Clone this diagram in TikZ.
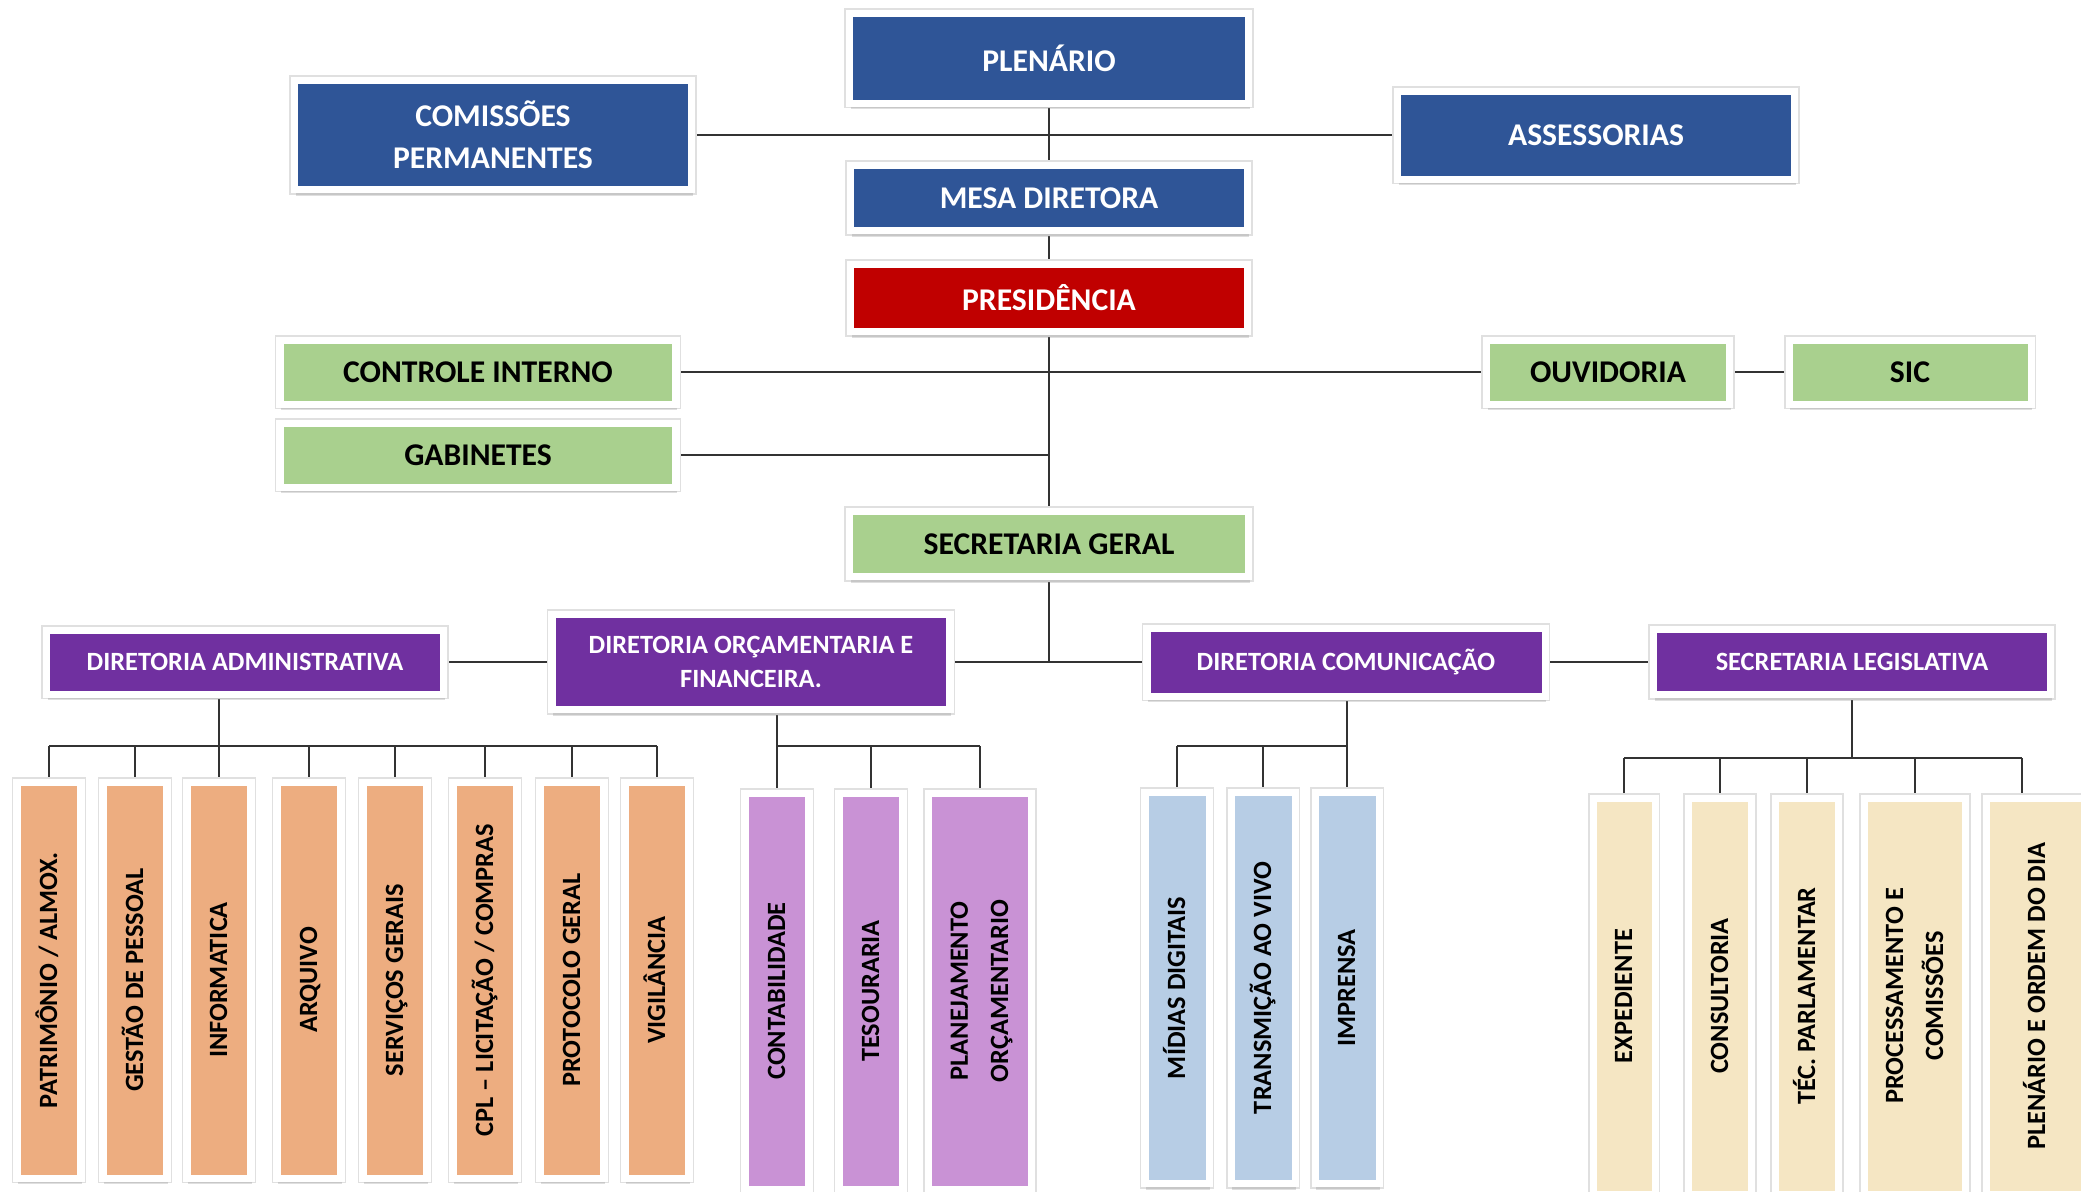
\documentclass[tikz,border=0pt]{standalone}
\usepackage{fontspec}
\setmainfont{Carlito}
\usetikzlibrary{shadows,backgrounds}

\definecolor{azul}{HTML}{2F5597}
\definecolor{vermelho}{HTML}{C00000}
\definecolor{verde}{HTML}{A9D08E}
\definecolor{roxo}{HTML}{7030A0}
\definecolor{laranja}{HTML}{EDAD80}
\definecolor{lilas}{HTML}{C992D5}
\definecolor{celeste}{HTML}{B7CDE5}
\definecolor{creme}{HTML}{F5E6C3}

% texto girado para as caixas verticais
\newcommand{\girado}[1]{\rotatebox{90}{\begin{tabular}{@{}c@{}}#1\end{tabular}}}

\tikzset{
  caixa/.style={draw=white, line width=2pt, inner sep=0pt, align=center,
    preaction={draw=black!12, line width=3pt},
    drop shadow={shadow xshift=0.3pt, shadow yshift=-1.8pt, opacity=0.25}},
  chefia/.style={caixa, fill=azul, text=white, minimum width=3.97cm,
    font=\fontsize{9}{12}\selectfont\bfseries},
  apoio/.style={caixa, fill=verde, text=black, minimum width=3.96cm, minimum height=0.64cm,
    font=\fontsize{9}{12}\selectfont\bfseries},
  diretoria/.style={caixa, fill=roxo, text=white, minimum width=3.97cm,
    font=\fontsize{7.5}{9.7}\selectfont\bfseries},
  setor/.style={caixa, text=black, minimum width=0.64cm, minimum height=3.96cm,
    font=\fontsize{7.5}{11.4}\selectfont\bfseries},
  ligacao/.style={draw=black!80, line width=0.6pt},
}

\begin{document}
\begin{tikzpicture}[y=-1cm]
\useasboundingbox (0,0) rectangle (20.81,11.91);

% topo
\node[chefia, minimum width=3.99cm, minimum height=0.90cm] (plen) at (10.49,0.58) {PLENÁRIO};
\node[chefia, minimum height=1.09cm] (comis) at (4.93,1.35) {COMISSÕES\\PERMANENTES};
\node[chefia, minimum height=0.88cm] (asses) at (15.96,1.35) {ASSESSORIAS};
\node[chefia, minimum height=0.65cm] (mesa) at (10.49,1.98) {MESA DIRETORA};
\node[chefia, fill=vermelho, minimum height=0.67cm] (pres) at (10.49,2.98) {PRESIDÊNCIA};

\node[apoio] (ctrl) at (4.78,3.72) {CONTROLE INTERNO};
\node[apoio] (gab) at (4.78,4.55) {GABINETES};
\node[apoio, minimum width=2.43cm] (ouv) at (16.08,3.72) {OUVIDORIA};
\node[apoio, minimum width=2.42cm] (sic) at (19.10,3.72) {SIC};
\node[apoio, minimum width=3.99cm, minimum height=0.65cm] (secg) at (10.49,5.44) {SECRETARIA GERAL};

% diretorias
\node[diretoria, minimum height=0.64cm] (dadm) at (2.45,6.62) {DIRETORIA ADMINISTRATIVA};
\node[diretoria, minimum width=3.98cm, minimum height=0.95cm] (dorc) at (7.51,6.62) {DIRETORIA ORÇAMENTARIA E\\FINANCEIRA.};
\node[diretoria, minimum width=3.98cm, minimum height=0.68cm] (dcom) at (13.46,6.62) {DIRETORIA COMUNICAÇÃO};
\node[diretoria, minimum height=0.65cm] (sleg) at (18.52,6.62) {SECRETARIA LEGISLATIVA};

% setores
\node[setor, fill=laranja] (a1) at (0.49,9.80) {\girado{PATRIMÔNIO / ALMOX.}};
\node[setor, fill=laranja] (a2) at (1.35,9.80) {\girado{GESTÃO DE PESSOAL}};
\node[setor, fill=laranja] (a3) at (2.19,9.80) {\girado{INFORMATICA}};
\node[setor, fill=laranja] (a4) at (3.09,9.80) {\girado{ARQUIVO}};
\node[setor, fill=laranja] (a5) at (3.95,9.80) {\girado{SERVIÇOS GERAIS}};
\node[setor, fill=laranja] (a6) at (4.85,9.80) {\girado{CPL – LICITAÇÃO / COMPRAS}};
\node[setor, fill=laranja] (a7) at (5.72,9.80) {\girado{PROTOCOLO GERAL}};
\node[setor, fill=laranja] (a8) at (6.57,9.80) {\girado{VIGILÂNCIA}};

\node[setor, fill=lilas] (b1) at (7.77,9.91) {\girado{CONTABILIDADE}};
\node[setor, fill=lilas] (b2) at (8.71,9.91) {\girado{TESOURARIA}};
\node[setor, fill=lilas, minimum width=1.03cm] (b3) at (9.80,9.91) {\girado{PLANEJAMENTO\\ORÇAMENTARIO}};

\node[setor, fill=celeste, minimum height=3.91cm] (c1) at (11.77,9.88) {\girado{MÍDIAS DIGITAIS}};
\node[setor, fill=celeste, minimum height=3.91cm] (c2) at (12.63,9.88) {\girado{TRANSMIÇÃO AO VIVO}};
\node[setor, fill=celeste, minimum height=3.91cm] (c3) at (13.47,9.88) {\girado{IMPRENSA}};

\node[setor, fill=creme, minimum width=0.62cm] (d1) at (16.24,9.96) {\girado{EXPEDIENTE}};
\node[setor, fill=creme, minimum width=0.63cm] (d2) at (17.20,9.96) {\girado{CONSULTORIA}};
\node[setor, fill=creme, minimum width=0.63cm] (d3) at (18.07,9.96) {\girado{TÉC. PARLAMENTAR}};
\node[setor, fill=creme, minimum width=1.01cm] (d4) at (19.15,9.96) {\girado{PROCESSAMENTO E\\COMISSÕES}};
\node[setor, fill=creme, minimum width=1.02cm] (d5) at (20.37,9.96) {\girado{PLENÁRIO E ORDEM DO DIA}};

% ligacoes
\begin{scope}[on background layer]
\draw[ligacao] (plen) -- (mesa) -- (pres) -- (secg);
\draw[ligacao] (comis.east) -- (comis.east -| asses.west);
\draw[ligacao] (ctrl.east) -- (ouv.west);
\draw[ligacao] (ouv.east) -- (sic.west);
\draw[ligacao] (gab.east) -- (gab.east -| pres.south);
\draw[ligacao] (secg.south) -- (secg.south |- dcom.west);
\draw[ligacao] (dadm.east) -- (dorc.west);
\draw[ligacao] (dorc.east) -- (dcom.west);
\draw[ligacao] (dcom.east) -- (sleg.west);

\coordinate (barA) at (2.19,7.46);
\draw[ligacao] (a3 |- dadm.south) -- (a3.north);
\draw[ligacao] (a1.north |- barA) -- (a8.north |- barA);
\foreach \i in {1,...,8}
  \draw[ligacao] (a\i.north) -- (a\i.north |- barA);

\coordinate (barB) at (7.77,7.46);
\draw[ligacao] (b1 |- dorc.south) -- (b1.north);
\draw[ligacao] (b1.north |- barB) -- (b3.north |- barB);
\foreach \i in {2,3}
  \draw[ligacao] (b\i.north) -- (b\i.north |- barB);

\coordinate (barC) at (13.47,7.46);
\draw[ligacao] (c3 |- dcom.south) -- (c3.north);
\draw[ligacao] (c1.north |- barC) -- (c3.north |- barC);
\foreach \i in {1,2}
  \draw[ligacao] (c\i.north) -- (c\i.north |- barC);

\coordinate (barD) at (18.55,7.58);
\coordinate (t5) at ([xshift=-0.15cm]d5.north);
\draw[ligacao] (sleg.south) -- (sleg.south |- barD);
\draw[ligacao] (d1.north |- barD) -- (t5 |- barD);
\foreach \i in {1,...,4}
  \draw[ligacao] (d\i.north) -- (d\i.north |- barD);
\draw[ligacao] (t5) -- (t5 |- barD);
\end{scope}
\end{tikzpicture}
\end{document}
